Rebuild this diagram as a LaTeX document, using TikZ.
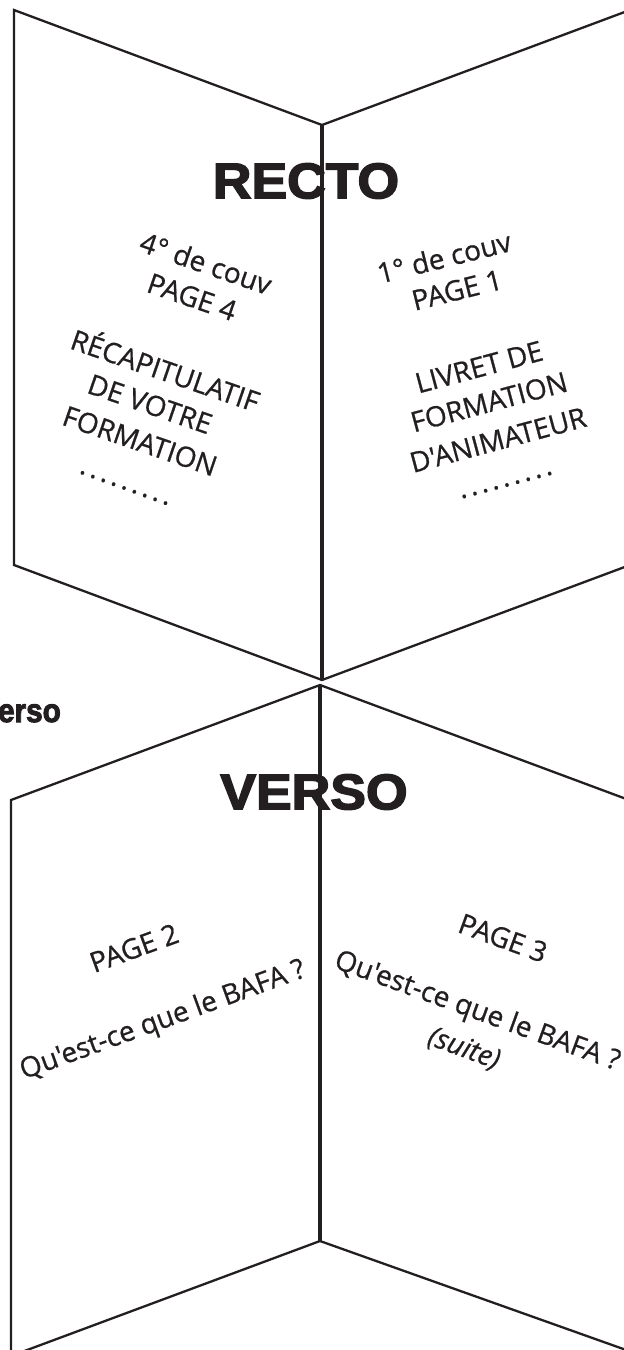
\documentclass[tikz,border=0pt]{standalone}
\usepackage{fontspec}
\newfontfamily\pagefont{Open Sans}[FakeBold=0.7]
\newfontfamily\titlefont{Liberation Sans}[FakeBold=3, BoldFeatures={FakeBold=3}]
\usepackage{tikz}
\usetikzlibrary{positioning}
\definecolor{ink}{HTML}{231F20}
\newcommand{\dotrow}{.\foreach \k in {1,...,8}{\kern3.6pt.}}

\begin{document}
\begin{tikzpicture}[x=1pt, y=-1pt,
	panel/.style={draw=ink, line width=2.3pt},
	spine/.style={draw=ink, line width=3.4pt},
	pagetxt/.style={inner sep=0pt, text=ink, font=\pagefont\fontsize{28}{28}\selectfont},
	bigtitle/.style={inner sep=0pt, text=ink, xscale=1.07, font=\titlefont\bfseries\fontsize{50}{50}\selectfont}]
		\useasboundingbox (0,0) rectangle (624,1350);
		\clip (0,0) rectangle (624,1350);

		% recto
		\coordinate (rtop) at (322,125);
		\coordinate (rbot) at (322,680);
		\coordinate (rtl) at (14,10);
		\coordinate (rbl) at (14,565);
		\coordinate (rtr) at (630,10);
		\coordinate (rbr) at (630,565);
		\draw[panel] (rtop) -- (rtl) -- (rbl) -- (rbot) -- (rbr) -- (rtr) -- cycle;
		\node[bigtitle] (recto) at (306,181) {RECTO};
		\draw[spine] (rtop) -- (rbot);

		\node[pagetxt, rotate=-19] (couv4) at (206,263) {4° de couv};
		\node[pagetxt, rotate=-19] (page4) at (192,297) {PAGE 4};
		\node[pagetxt, rotate=-19] (recap) at (166,368) {RÉCAPITULATIF};
		\node[pagetxt, rotate=-19] (votre) at (150,404) {DE VOTRE};
		\node[pagetxt, rotate=-19] (formL) at (140,441) {FORMATION};
		\node[pagetxt, rotate=-20] (dotsL) at (124,488) {\dotrow};

		\node[pagetxt, rotate=14] (couv1) at (444,257) {1° de couv};
		\node[pagetxt, rotate=14] (page1) at (457,290) {PAGE 1};
		\node[pagetxt, rotate=15] (livret) at (479,367) {LIVRET DE};
		\node[pagetxt, rotate=15] (formR) at (489,402) {FORMATION};
		\node[pagetxt, rotate=15] (anim) at (498,440) {D'ANIMATEUR};
		\node[pagetxt, rotate=15] (dotsR) at (507,485) {\dotrow};

		\node[anchor=base east, inner sep=0pt, text=ink, xscale=0.9, font=\titlefont\bfseries\fontsize{33}{33}\selectfont] (versolbl) at (61,722) {Verso};

		% verso
		\coordinate (vtop) at (320,685);
		\coordinate (vbot) at (320,1241);
		\coordinate (vtl) at (11,800);
		\coordinate (vbl) at (11,1356);
		\coordinate (vtr) at (629,800);
		\coordinate (vbr) at (629,1351);
		\draw[panel] (vtop) -- (vtl) -- (vbl) -- (vbot) -- (vbr) -- (vtr) -- cycle;
		\node[bigtitle] (verso) at (314,792) {VERSO};
		\draw[spine] (vtop) -- (vbot);

		\node[pagetxt, rotate=20] (page2) at (134,948) {PAGE 2};
		\node[pagetxt, rotate=20] (bafaL) at (163,1021) {Qu'est-ce que le BAFA ?};

		\node[pagetxt, rotate=-20] (page3) at (503,938) {PAGE 3};
		\node[pagetxt, rotate=-20] (bafaR) at (477,1012) {Qu'est-ce que le BAFA ?};
		\node[pagetxt, rotate=-20, font=\pagefont\itshape\fontsize{28}{28}\selectfont] (suite) at (464,1049) {(suite)};
\end{tikzpicture}
\end{document}
